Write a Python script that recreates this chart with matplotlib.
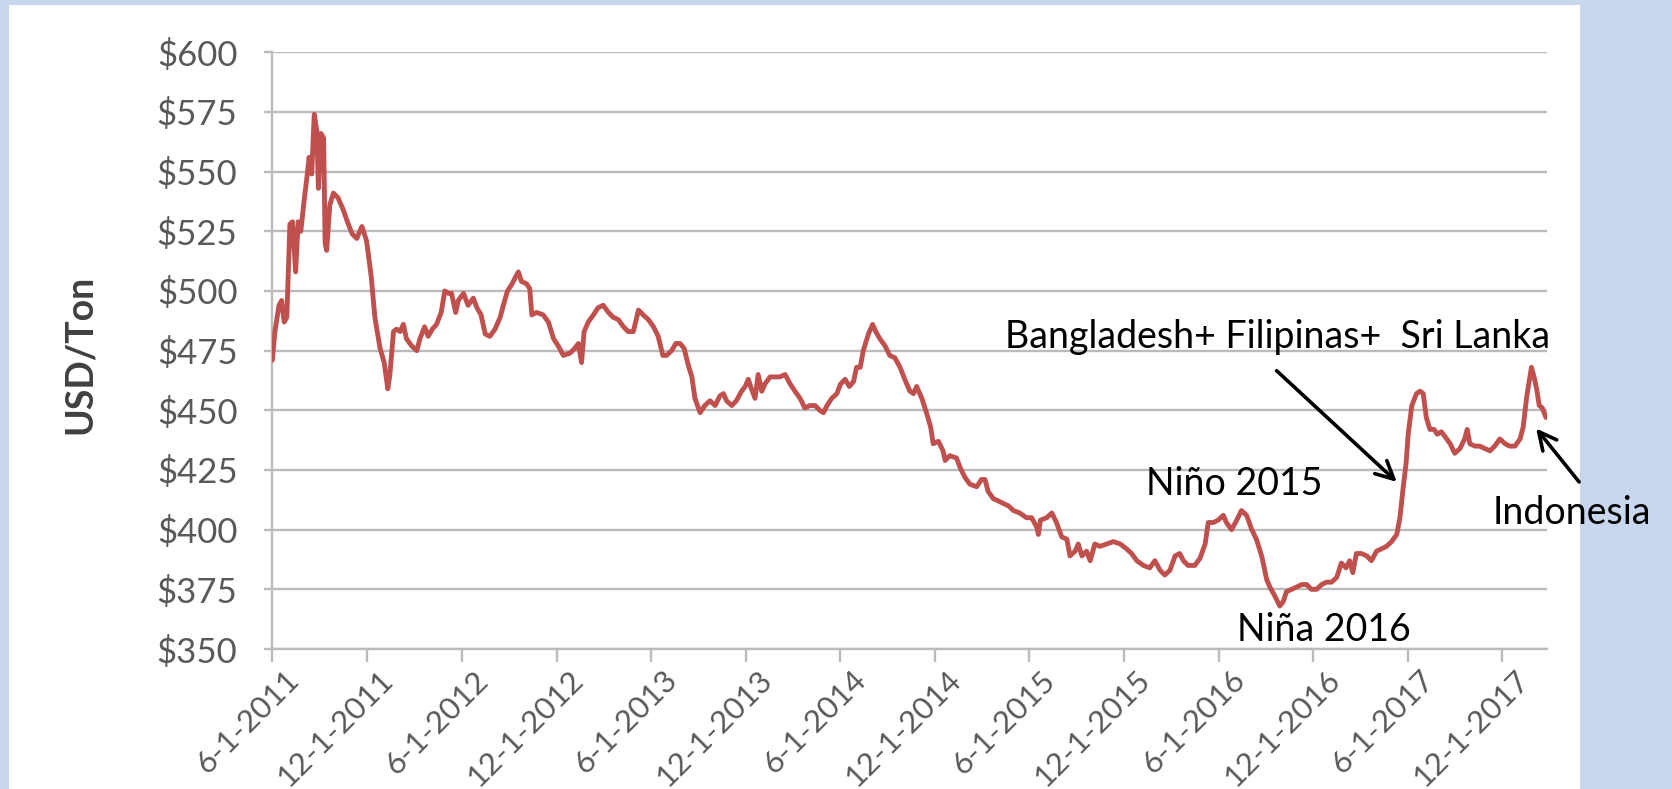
import matplotlib
matplotlib.use("Agg")
import matplotlib.pyplot as plt
from matplotlib.patches import Rectangle
from matplotlib.transforms import ScaledTranslation
import pandas as pd

# ---------------- data ----------------
start_date = "2011-06-01"

day_offsets = [
    0, 5, 13, 18, 23, 28, 34, 39, 45, 50, 55, 62, 66, 71, 76, 81, 86, 89, 94, 99,
    102, 105, 111, 118, 127, 137, 145, 154, 163, 173, 182, 191, 198, 208, 216, 223, 227, 234, 240, 247,
    253, 259, 269, 279, 285, 294, 301, 309, 317, 326, 333, 340, 346, 354, 359, 369, 378, 388, 395, 403,
    411, 420, 430, 440, 446, 454, 463, 470, 475, 481, 491, 497, 501, 510, 523, 533, 543, 552, 562, 575,
    584, 591, 597, 602, 610,
    620, 629, 639, 649, 658, 668, 678, 687, 697, 707, 716, 726, 736, 745, 754, 761, 771, 779, 787, 795,
    803, 810, 816, 826, 835, 845, 855, 864, 871, 877, 887, 896, 906, 913, 919, 925, 932, 938, 945, 951,
    961, 971, 980, 990, 1000, 1009, 1019, 1028, 1038, 1048, 1057, 1064, 1071, 1080, 1090, 1097, 1106, 1114, 1122, 1128,
    1135, 1141, 1151, 1159, 1165, 1173, 1183, 1192, 1202, 1212, 1221,
    1231, 1238, 1244, 1254, 1263, 1271, 1276, 1286, 1295, 1299, 1308, 1321, 1328, 1337, 1347, 1360, 1369, 1376, 1382, 1392,
    1402, 1411, 1421, 1431, 1443, 1456, 1466, 1476, 1479, 1483, 1495, 1505, 1514, 1524, 1534, 1540, 1550, 1556, 1563, 1572,
    1579, 1588, 1598, 1611, 1624, 1637, 1649, 1659, 1669, 1682, 1694, 1704, 1714, 1723, 1733, 1743, 1752, 1759, 1768, 1781,
    1791, 1801, 1807, 1817, 1826, 1836, 1842, 1852, 1862, 1871, 1881, 1891, 1900, 1910, 1920,
    1926, 1936, 1945, 1952, 1958, 1968, 1978, 1987, 1997, 2006, 2016, 2026, 2035, 2045, 2055, 2064, 2073, 2080, 2086, 2093,
    2103, 2113, 2122, 2132, 2142, 2151, 2161, 2171, 2177, 2183, 2189, 2193, 2200, 2209, 2216, 2222, 2228, 2235, 2243, 2249,
    2257, 2264, 2274, 2283, 2293, 2302, 2307, 2312, 2322, 2331, 2341, 2351, 2360, 2370, 2380, 2389, 2399, 2409, 2415, 2422,
    2428, 2431, 2436, 2441, 2446, 2452, 2459,
]

price_usd = [
    471, 483, 494, 496, 487, 489, 528, 529, 508, 529, 525, 539, 546, 556, 549, 574, 567, 543, 566, 564,
    520, 517, 536, 541, 539, 534, 529, 524, 522, 527, 521, 506, 489, 476, 470, 459, 465, 483, 484, 483,
    486, 480, 477, 475, 480, 485, 481, 484, 486, 491, 500, 499, 499, 491, 496, 499, 494, 497, 493, 490,
    482, 481, 484, 489, 494, 500, 503, 506, 508, 504, 503, 501, 490, 491, 490, 487, 480, 477, 473, 474,
    476, 478, 470, 483, 487,
    490, 493, 494, 491, 489, 488, 485, 483, 483, 492, 490, 488, 485, 481, 473, 473, 475, 478, 478, 476,
    469, 464, 455, 449, 452, 454, 452, 456, 457, 454, 452, 454, 458, 460, 463, 459, 455, 465, 458, 461,
    464, 464, 464, 465, 461, 458, 455, 451, 452, 452, 450, 449, 452, 455, 457, 461, 463, 460, 462, 468,
    468, 475, 482, 486, 483, 480, 477, 473, 472, 468, 463,
    458, 457, 460, 455, 449, 443, 436, 437, 433, 429, 431, 430, 426, 422, 419, 418, 421, 421, 416, 413,
    412, 411, 410, 408, 407, 405, 405, 401, 398, 404, 405, 407, 403, 397, 396, 389, 391, 394, 389, 391,
    387, 394, 393, 394, 395, 394, 392, 390, 387, 385, 384, 387, 383, 381, 383, 389, 390, 387, 385, 385,
    388, 394, 403, 403, 404, 406, 403, 400, 404, 408, 406, 400, 396, 389, 379,
    376, 372, 368, 370, 374, 375, 376, 377, 377, 375, 375, 377, 378, 378, 380, 386, 384, 387, 382, 390,
    390, 389, 387, 391, 392, 393, 395, 398, 405, 417, 428, 440, 452, 457, 458, 457, 447, 442, 442, 440,
    441, 439, 436, 432, 434, 438, 442, 436, 435, 435, 434, 433, 435, 438, 436, 435, 435, 438, 443, 456,
    464, 468, 464, 459, 452, 451, 447,
]

tick_dates = ["2011-06-01", "2011-12-01", "2012-06-01", "2012-12-01", "2013-06-01",
              "2013-12-01", "2014-06-01", "2014-12-01", "2015-06-01", "2015-12-01",
              "2016-06-01", "2016-12-01", "2017-06-01", "2017-12-01"]
tick_labels = ["6-1-2011", "12-1-2011", "6-1-2012", "12-1-2012", "6-1-2013",
               "12-1-2013", "6-1-2014", "12-1-2014", "6-1-2015", "12-1-2015",
               "6-1-2016", "12-1-2016", "6-1-2017", "12-1-2017"]
y_ticks = [350, 375, 400, 425, 450, 475, 500, 525, 550, 575, 600]
y_tick_labels = ["$350", "$375", "$400", "$425", "$450", "$475",
                 "$500", "$525", "$550", "$575", "$600"]
y_label = "USD/Ton"

# annotations: (text, day offset, price)
label_sources = ("Bangladesh+ Filipinas+  Sri Lanka", 1414, 476)
label_nino = ("Niño 2015", 1687, 414.5)
label_nina = ("Niña 2016", 1862, 353.5)
label_indo = ("Indonesia", 2356, 402.4)
arrow_sources = ((1939, 466.6), (2171, 420))   # tail, head
arrow_indo = ((2523, 420), (2440, 442.4))

# ---------------- figure ----------------
plt.rcParams['font.family'] = ['Lato', 'DejaVu Sans']
plt.rcParams['axes.unicode_minus'] = False

W, H = 1672, 789
fig = plt.figure(figsize=(W / 100, H / 100), dpi=100)
fig.patch.set_facecolor('#c9d7ee')
fig.add_artist(Rectangle((9 / W, 0), (1580 - 9) / W, (H - 5) / H,
                         transform=fig.transFigure, facecolor='white',
                         edgecolor='none', zorder=-1))

ax_l, ax_r, ax_t, ax_b = 272.3, 1547, 52.3, 649
ax = fig.add_axes([ax_l / W, 1 - ax_b / H, (ax_r - ax_l) / W, (ax_b - ax_t) / H])
ax.set_facecolor('none')

t0 = pd.Timestamp(start_date)
dates = t0 + pd.to_timedelta(day_offsets, unit='D')
ax.plot(dates, price_usd, color='#c0504d', lw=3.5, solid_joinstyle='round',
        solid_capstyle='round', zorder=3)

ax.set_xlim(t0, t0 + pd.Timedelta(days=2461))
ax.set_ylim(350, 600)

grid_c = '#bbbbbb'
ax.set_yticks(y_ticks)
ax.set_yticklabels(y_tick_labels)
ax.yaxis.grid(True, color=grid_c, lw=1.7, zorder=1)
ax.set_axisbelow(True)

ax.set_xticks(pd.to_datetime(tick_dates))
ax.set_xticklabels(tick_labels, rotation=45, ha='right', rotation_mode='anchor')

for s in ('top', 'right'):
    ax.spines[s].set_visible(False)
for s in ('left', 'bottom'):
    ax.spines[s].set_color(grid_c)
    ax.spines[s].set_linewidth(1.7)

ax.tick_params(axis='y', length=6, width=1.7, color=grid_c, pad=19,
               labelsize=25, labelcolor='#595959')
ax.tick_params(axis='x', length=9, width=1.7, color=grid_c, pad=3,
               labelsize=22.5, labelcolor='#595959')

dx = ScaledTranslation(12 / 100, 0, fig.dpi_scale_trans)
for lab in ax.get_xticklabels():
    lab.set_transform(lab.get_transform() + dx)

ax.set_ylabel(y_label, fontsize=27, fontweight='bold', color='#404040')
ax.yaxis.set_label_coords((97 - ax_l) / (ax_r - ax_l), 0.494)


def d(day):
    return t0 + pd.Timedelta(days=day)


ann_fs = 27
for txt, day, val in (label_sources, label_nino, label_nina, label_indo):
    ax.text(d(day), val, txt, fontsize=ann_fs, color='black', ha='left',
            va='baseline', zorder=5, clip_on=False)

for (tail, head) in (arrow_sources, arrow_indo):
    ax.annotate('', xy=(d(head[0]), head[1]), xytext=(d(tail[0]), tail[1]),
                arrowprops=dict(arrowstyle='->', color='black', lw=2.6,
                                mutation_scale=32, shrinkA=0, shrinkB=0),
                annotation_clip=False, zorder=6)

fig.savefig('out.png', dpi=100, facecolor=fig.get_facecolor())
